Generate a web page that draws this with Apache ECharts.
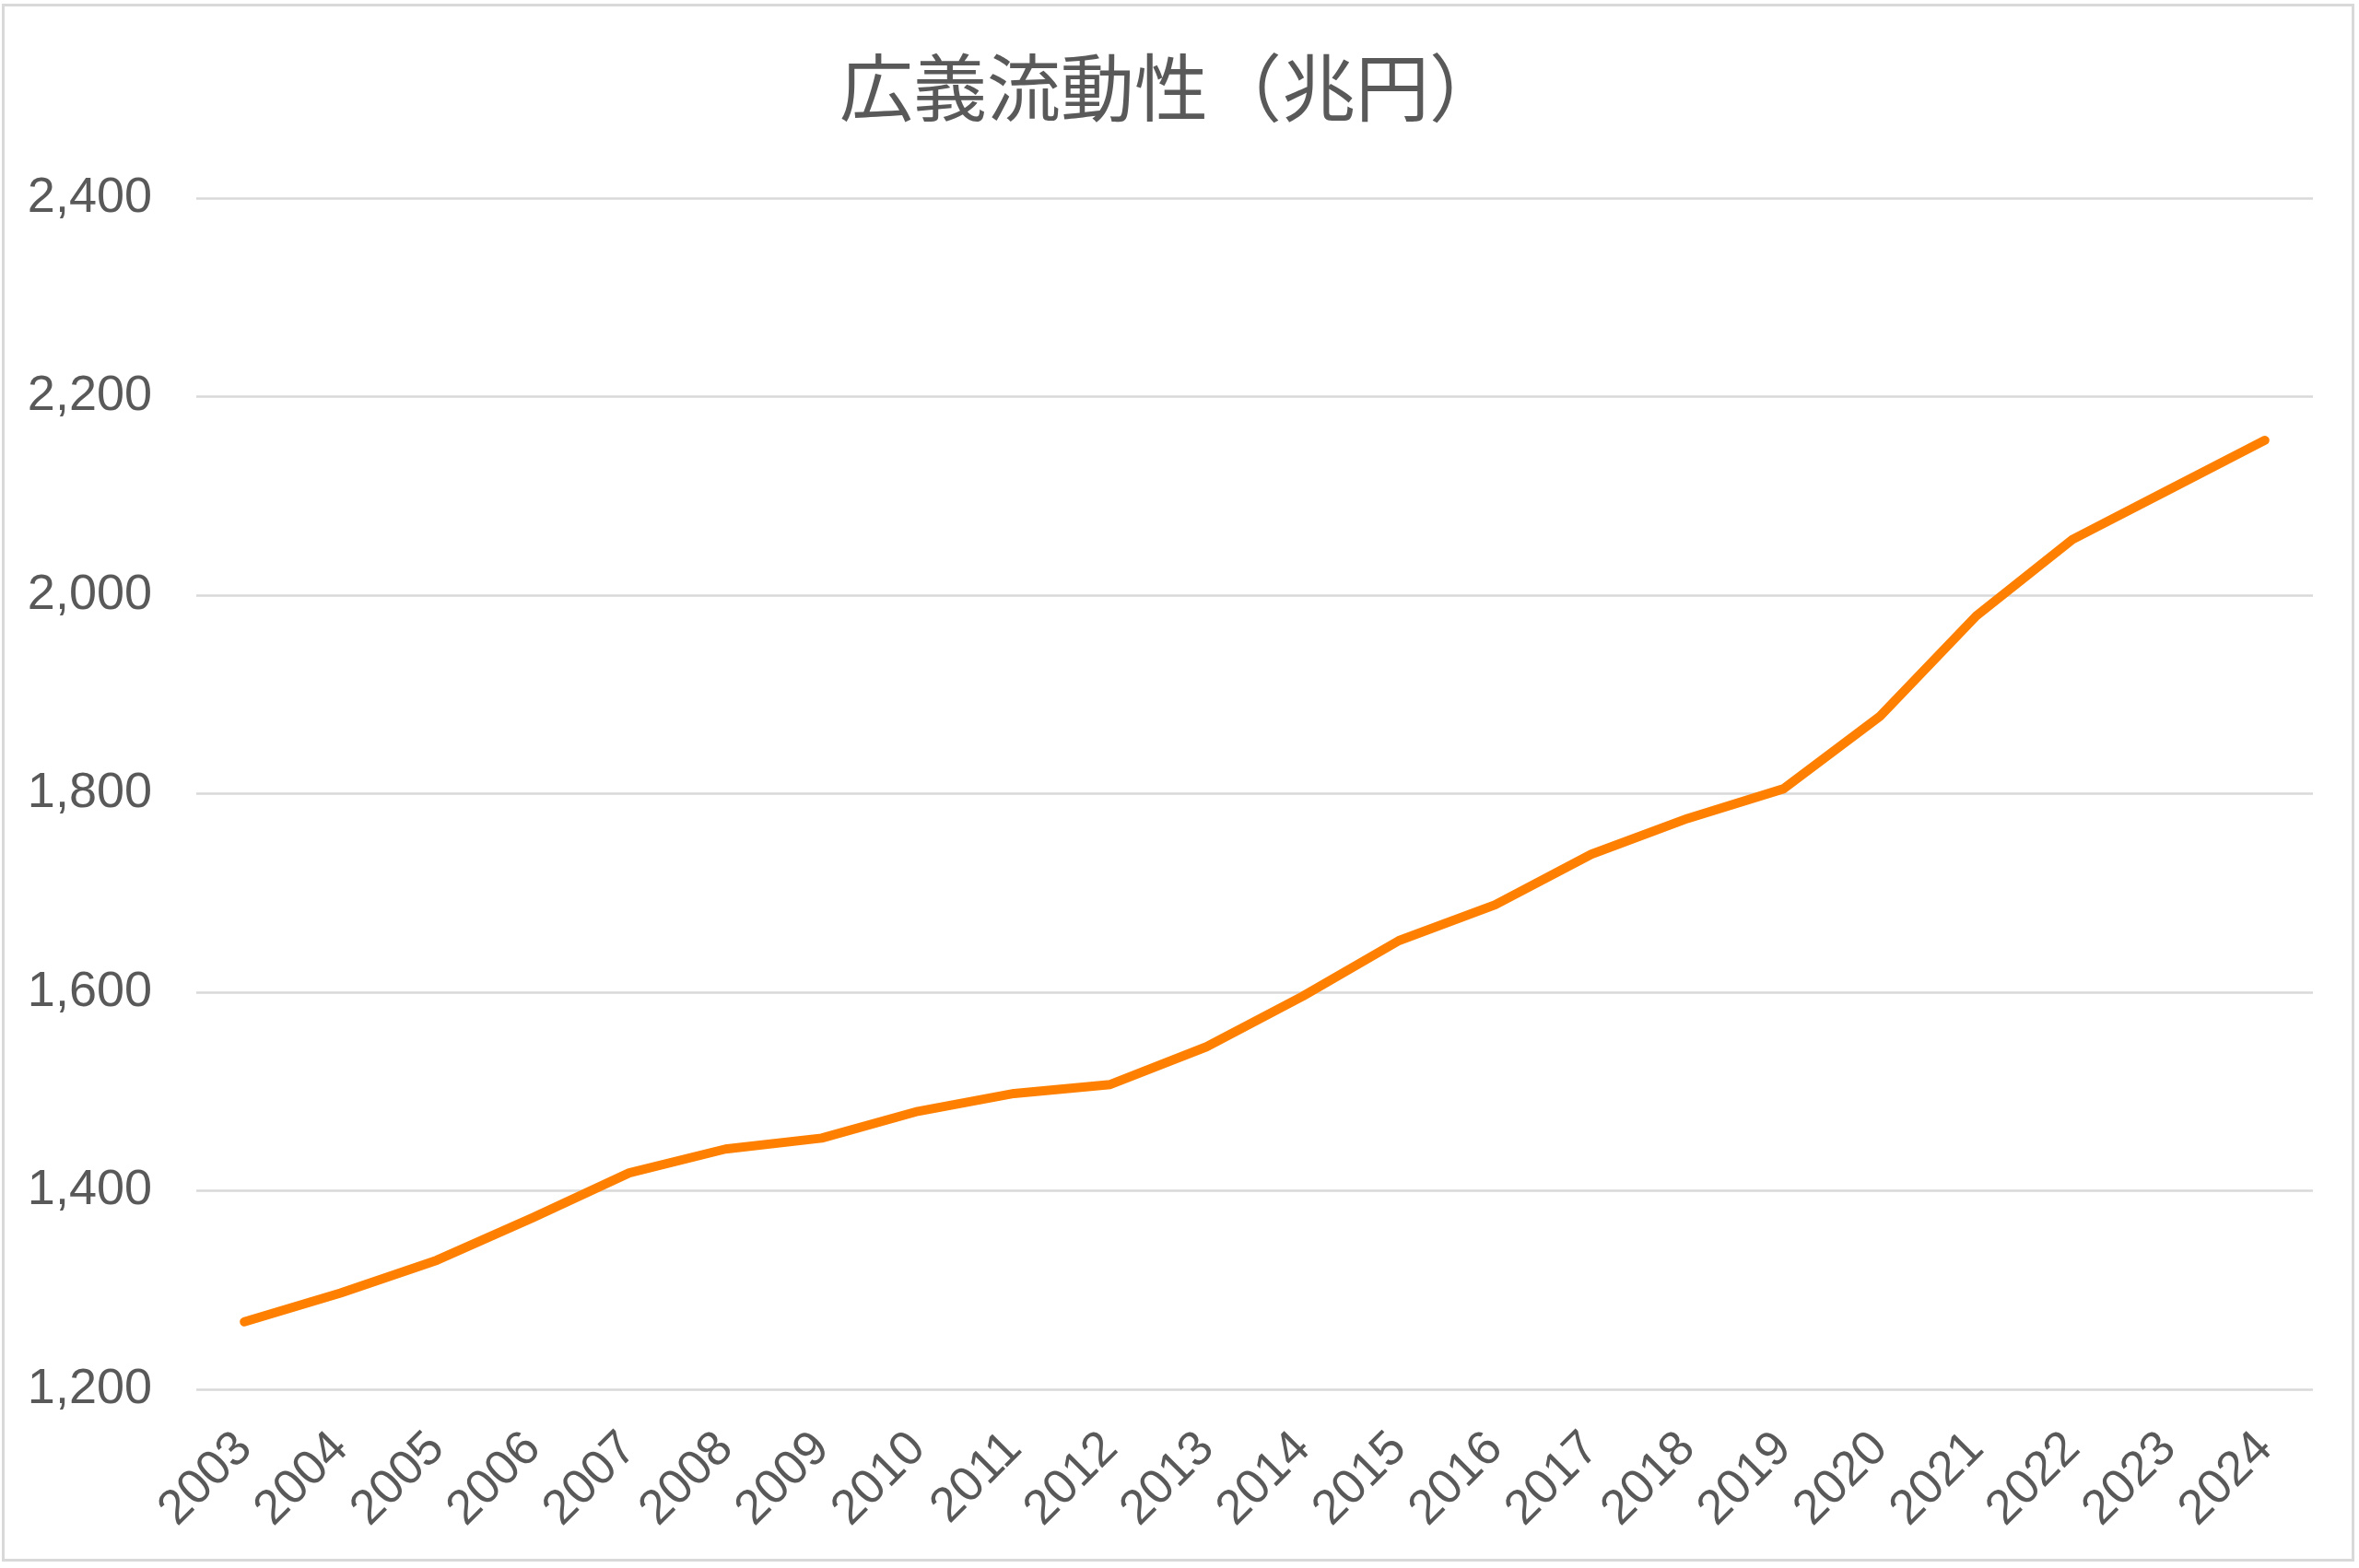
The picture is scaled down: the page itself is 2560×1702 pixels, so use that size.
<!DOCTYPE html>
<html>
<head>
<meta charset="utf-8">
<script src="https://cdn.jsdelivr.net/npm/echarts@6/dist/echarts.min.js"></script>
<style>
html,body{margin:0;padding:0;background:#fff;}
#wrap{position:absolute;left:2px;top:4px;width:2553px;height:1691px;border:3px solid #d9d9d9;box-sizing:border-box;}
#chart{position:absolute;left:0;top:0;width:2560px;height:1702px;}
</style>
</head>
<body>
<div id="wrap"></div>
<div id="chart"></div>
<script>
const titleText = '広義流動性（兆円）';
const years = ['2003','2004','2005','2006','2007','2008','2009','2010','2011','2012','2013','2014','2015','2016','2017','2018','2019','2020','2021','2022','2023','2024'];
const liquidity = [1268,1297,1330,1373,1418,1442,1453,1480,1498,1507,1545,1596,1652,1688,1739,1775,1805,1878,1979,2056,2106,2156];
const yTicks = {min:1200, max:2400, step:200};

const chart = echarts.init(document.getElementById('chart'), null, {renderer:'canvas'});
chart.setOption({
  backgroundColor:'transparent',
  animation:false,
  title:{
    text:titleText,
    left:1266,
    textAlign:'center',
    top:50,
    textStyle:{fontFamily:'Noto Sans CJK JP',fontSize:80,fontWeight:'normal',color:'#595959'}
  },
  grid:{left:213,right:50,top:215,bottom:194,containLabel:false},
  xAxis:{
    type:'category',
    data:years,
    boundaryGap:true,
    axisLine:{show:false},
    axisTick:{show:false},
    axisLabel:{rotate:45,margin:56,fontSize:53,color:'#595959',fontFamily:'Liberation Sans',interval:0}
  },
  yAxis:{
    type:'value',
    min:yTicks.min,max:yTicks.max,interval:yTicks.step,
    axisLine:{show:false},
    axisTick:{show:false},
    splitLine:{lineStyle:{color:'#d9d9d9',width:2.5}},
    axisLabel:{margin:48,fontSize:54,color:'#595959',fontFamily:'Liberation Sans',
      formatter:v=>v.toLocaleString('en-US')}
  },
  series:[{
    type:'line',
    data:liquidity,
    showSymbol:false,
    symbol:'none',
    lineStyle:{color:'#FF8000',width:10,cap:'round',join:'round'}
  }]
});
</script>
</body>
</html>
